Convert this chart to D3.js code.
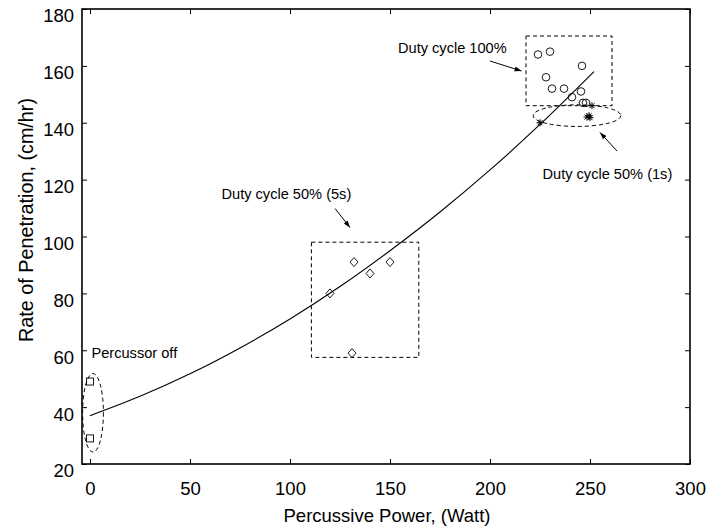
<!DOCTYPE html>
<head>
	<meta charset="utf-8">
	<title>Rate of Penetration</title>
	<style>
		body {
			margin: 0;
			background: #fff;
			font-family: 'Liberation Sans', Arial, sans-serif;
		}
		.axis text {
			font-size: 18.5px;
			fill: #000;
		}
		.axis path, .axis line {
			stroke: #000;
		}
		.note {
			font-size: 14.6px;
			fill: #000;
		}
		.dash {
			fill: none;
			stroke: #000;
			stroke-width: 1;
			stroke-dasharray: 4,3;
		}
	</style>
</head>
<body>
<script src="https://cdn.jsdelivr.net/npm/d3@7/dist/d3.min.js"></script>
<script>

// data
var offX = [0, 0];
var offY = [49, 29];

var dc5X = [120, 131, 132, 140, 150];
var dc5Y = [80, 59, 91, 87, 91];

var dc100X = [224, 230, 246, 228, 231, 237, 245.5, 241, 246.5, 248];
var dc100Y = [164, 165, 160, 156, 152, 152, 151, 149, 147, 147];

var dc1X = [225, 251, 248.5, 249.5, 250];
var dc1Y = [140, 146, 142, 142.5, 141.8];

// fitted trend line, sampled off the figure
var fitX = [0, 25, 50, 75, 100, 125, 150, 175, 200, 225, 252];
var fitY = [37, 43.8, 51.7, 60.8, 71, 82.4, 95, 108.6, 123.4, 139.4, 158];

var xTicks = [0, 50, 100, 150, 200, 250, 300];
var yTicks = [20, 40, 60, 80, 100, 120, 140, 160, 180];

// regions marked on the figure: [x0, x1, y0, y1]
var box5 = [110.7, 164.4, 57.5, 98];
var box100 = [218, 261, 146, 170.5];
// ellipses: [cx, cy, rx, ry] in data units
var ellOff = [1.5, 38, 5.2, 13.8];
var ell1 = [243.5, 142.5, 21.9, 3.8];

var width = 709, height = 529;
var mLeft = 82, mRight = 690, mTop = 9, mBottom = 464;

var svg = d3.select("body")
	.append("svg")
	.attr("width", width)
	.attr("height", height);

var x = d3.scaleLinear().domain([-4, 300]).range([mLeft, mRight]);
var y = d3.scaleLinear().domain([20, 180]).range([mBottom, mTop]);

// axes with inward ticks on all four sides
svg.append("g")
	.attr("class", "axis")
	.attr("transform", "translate(0," + mBottom + ")")
	.call(d3.axisBottom(x).tickValues(xTicks).tickSize(-5).tickPadding(18))
	.call(g => g.select(".domain").remove());

svg.append("g")
	.attr("class", "axis")
	.attr("transform", "translate(0," + mTop + ")")
	.call(d3.axisTop(x).tickValues(xTicks).tickSize(-5).tickFormat(""))
	.call(g => g.select(".domain").remove());

svg.append("g")
	.attr("class", "axis")
	.attr("transform", "translate(" + mLeft + ",0)")
	.call(d3.axisLeft(y).tickValues(yTicks).tickSize(-5).tickPadding(8))
	.call(g => g.select(".domain").remove())
	.selectAll("text").attr("y", 7);

svg.append("g")
	.attr("class", "axis")
	.attr("transform", "translate(" + mRight + ",0)")
	.call(d3.axisRight(y).tickValues(yTicks).tickSize(-5).tickFormat(""))
	.call(g => g.select(".domain").remove());

svg.append("rect")
	.attr("x", mLeft)
	.attr("y", mTop)
	.attr("width", mRight - mLeft)
	.attr("height", mBottom - mTop)
	.attr("fill", "none")
	.attr("stroke", "#000")
	.attr("stroke-width", 1.6);

// axis titles
svg.append("text")
	.attr("x", 387)
	.attr("y", 521.5)
	.attr("text-anchor", "middle")
	.style("font-size", "18.5px")
	.text("Percussive Power, (Watt)");

svg.append("text")
	.attr("transform", "translate(33,220) rotate(-90)")
	.attr("text-anchor", "middle")
	.style("font-size", "19.8px")
	.text("Rate of Penetration, (cm/hr)");

// trend line
var line = d3.line()
	.x((d, i) => x(fitX[i]))
	.y((d, i) => y(fitY[i]))
	.curve(d3.curveCatmullRom);

svg.append("path")
	.datum(fitX)
	.attr("d", line)
	.attr("fill", "none")
	.attr("stroke", "#000")
	.attr("stroke-width", 1.1);

// dashed boxes and ellipses
[box5, box100].forEach(function(b) {
	svg.append("rect")
		.attr("class", "dash")
		.attr("x", x(b[0]))
		.attr("y", y(b[3]))
		.attr("width", x(b[1]) - x(b[0]))
		.attr("height", y(b[2]) - y(b[3]));
});

[ellOff, ell1].forEach(function(e) {
	svg.append("ellipse")
		.attr("class", "dash")
		.attr("cx", x(e[0]))
		.attr("cy", y(e[1]))
		.attr("rx", x(e[2]) - x(0))
		.attr("ry", y(0) - y(e[3]));
});

// markers
svg.append("g").selectAll("rect")
	.data(offX)
	.enter().append("rect")
	.attr("x", (d, i) => x(d) - 3.5)
	.attr("y", (d, i) => y(offY[i]) - 3.5)
	.attr("width", 7)
	.attr("height", 7)
	.attr("fill", "none")
	.attr("stroke", "#000")
	.attr("stroke-width", 0.9);

svg.append("g").selectAll("path")
	.data(dc5X)
	.enter().append("path")
	.attr("transform", (d, i) => "translate(" + x(d) + "," + y(dc5Y[i]) + ")")
	.attr("d", "M0,-4.5L4,0L0,4.5L-4,0Z")
	.attr("fill", "none")
	.attr("stroke", "#000")
	.attr("stroke-width", 0.9);

svg.append("g").selectAll("circle")
	.data(dc100X)
	.enter().append("circle")
	.attr("cx", d => x(d))
	.attr("cy", (d, i) => y(dc100Y[i]))
	.attr("r", 3.8)
	.attr("fill", "none")
	.attr("stroke", "#000")
	.attr("stroke-width", 0.9);

svg.append("g").selectAll("path")
	.data(dc1X)
	.enter().append("path")
	.attr("transform", (d, i) => "translate(" + x(d) + "," + y(dc1Y[i]) + ")")
	.attr("d", "M-3.5,0H3.5M0,-3.5V3.5M-2.5,-2.5L2.5,2.5M-2.5,2.5L2.5,-2.5")
	.attr("stroke", "#000")
	.attr("stroke-width", 1);

// annotations
svg.append("defs").append("marker")
	.attr("id", "head")
	.attr("viewBox", "0 0 10 10")
	.attr("refX", 10)
	.attr("refY", 5)
	.attr("markerWidth", 7)
	.attr("markerHeight", 7)
	.attr("orient", "auto")
	.append("path")
	.attr("d", "M0,1.5L10,5L0,8.5Z")
	.attr("fill", "#000");

var notes = [
	{t: "Duty cycle 100%", x: 398, y: 52.5, a: [490, 61, 521.5, 71]},
	{t: "Duty cycle 50% (1s)", x: 542.5, y: 178.5, a: [617, 151, 600, 132.5]},
	{t: "Duty cycle 50% (5s)", x: 221.5, y: 198.5, a: [335, 208.5, 350, 227.5]},
	{t: "Percussor off", x: 91.5, y: 358}
];

notes.forEach(function(n) {
	svg.append("text")
		.attr("class", "note")
		.attr("x", n.x)
		.attr("y", n.y)
		.text(n.t);
	if (n.a) {
		svg.append("line")
			.attr("x1", n.a[0]).attr("y1", n.a[1])
			.attr("x2", n.a[2]).attr("y2", n.a[3])
			.attr("stroke", "#000")
			.attr("stroke-width", 1)
			.attr("marker-end", "url(#head)");
	}
});

</script>
</body>
</html>
